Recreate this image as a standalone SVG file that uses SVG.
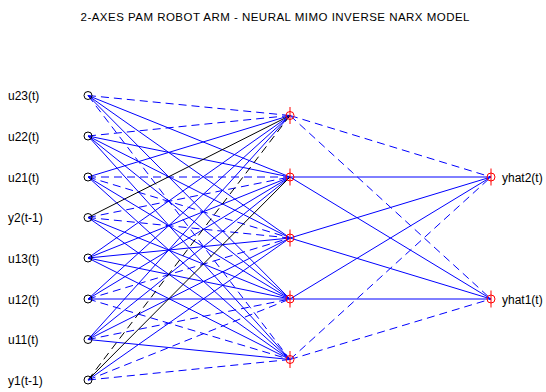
<svg xmlns="http://www.w3.org/2000/svg" width="546" height="392" viewBox="0 0 546 392">
<style>
text{font-family:"Liberation Sans",Arial,sans-serif;fill:#000}
.lbl{font-size:12px}
.ttl{font-size:11.5px}
line{stroke-width:1;fill:none}
.s{stroke:#0000ff}
.d{stroke:#0000ff;stroke-dasharray:8 5}
.k{stroke:#000}
.kd{stroke:#000;stroke-dasharray:8 5}
.in{fill:none;stroke:#000;stroke-width:1}
.rn{fill:none;stroke:#ff0000;stroke-width:1}
</style>
<rect width="546" height="392" fill="#fff"/>
<text class="ttl" x="80.5" y="20.5" textLength="389" lengthAdjust="spacing">2-AXES PAM ROBOT ARM - NEURAL MIMO INVERSE NARX MODEL</text>
<g id="connectors">
<!-- u23 -->
<line class="d" x1="88" y1="95.5" x2="290" y2="115.5"/>
<line class="s" x1="88" y1="95.5" x2="290" y2="177"/>
<line class="s" x1="88" y1="95.5" x2="290" y2="238"/>
<line class="s" x1="88" y1="95.5" x2="290" y2="299"/>
<line class="d" x1="88" y1="95.5" x2="290" y2="359.5"/>
<!-- u22 -->
<line class="d" x1="88" y1="136" x2="290" y2="115.5"/>
<line class="s" x1="88" y1="136" x2="290" y2="177"/>
<line class="s" x1="88" y1="136" x2="290" y2="238"/>
<line class="s" x1="88" y1="136" x2="290" y2="299"/>
<line class="s" x1="88" y1="136" x2="290" y2="359.5"/>
<!-- u21 -->
<line class="s" x1="88" y1="177" x2="290" y2="115.5"/>
<line class="d" x1="88" y1="177" x2="290" y2="177"/>
<line class="d" x1="88" y1="177" x2="290" y2="238"/>
<line class="s" x1="88" y1="177" x2="290" y2="299"/>
<line class="s" x1="88" y1="177" x2="290" y2="359.5"/>
<!-- y2 -->
<line class="k" x1="88" y1="217.5" x2="290" y2="115.5"/>
<line class="d" x1="88" y1="217.5" x2="290" y2="177"/>
<line class="d" x1="88" y1="217.5" x2="290" y2="238"/>
<line class="s" x1="88" y1="217.5" x2="290" y2="299"/>
<line class="s" x1="88" y1="217.5" x2="290" y2="359.5"/>
<!-- u13 -->
<line class="s" x1="88" y1="258" x2="290" y2="115.5"/>
<line class="s" x1="88" y1="258" x2="290" y2="177"/>
<line class="s" x1="88" y1="258" x2="290" y2="238"/>
<line class="s" x1="88" y1="258" x2="290" y2="299"/>
<line class="s" x1="88" y1="258" x2="290" y2="359.5"/>
<!-- u12 -->
<line class="s" x1="88" y1="299" x2="290" y2="115.5"/>
<line class="s" x1="88" y1="299" x2="290" y2="177"/>
<line class="d" x1="88" y1="299" x2="290" y2="238"/>
<line class="s" x1="88" y1="299" x2="290" y2="299"/>
<line class="d" x1="88" y1="299" x2="290" y2="359.5"/>
<!-- u11 -->
<line class="s" x1="88" y1="339.5" x2="290" y2="115.5"/>
<line class="s" x1="88" y1="339.5" x2="290" y2="177"/>
<line class="s" x1="88" y1="339.5" x2="290" y2="238"/>
<line class="d" x1="88" y1="339.5" x2="290" y2="299"/>
<line class="s" x1="88" y1="339.5" x2="290" y2="359.5"/>
<!-- y1 -->
<line class="kd" x1="88" y1="380" x2="290" y2="115.5"/>
<line class="k" x1="88" y1="380" x2="290" y2="177"/>
<line class="s" x1="88" y1="380" x2="290" y2="238"/>
<line class="d" x1="88" y1="380" x2="290" y2="299"/>
<line class="d" x1="88" y1="380" x2="290" y2="359.5"/>
<!-- hidden to output -->
<line class="d" x1="290" y1="115.5" x2="491" y2="177"/>
<line class="d" x1="290" y1="115.5" x2="491" y2="299"/>
<line class="s" x1="290" y1="177" x2="491" y2="177"/>
<line class="s" x1="290" y1="177" x2="491" y2="299"/>
<line class="s" x1="290" y1="238" x2="491" y2="177"/>
<line class="s" x1="290" y1="238" x2="491" y2="299"/>
<line class="s" x1="290" y1="299" x2="491" y2="177"/>
<line class="s" x1="290" y1="299" x2="491" y2="299"/>
<line class="d" x1="290" y1="359.5" x2="491" y2="177"/>
<line class="d" x1="290" y1="359.5" x2="491" y2="299"/>
</g>
<g id="in_u23"><circle class="in" cx="88" cy="95.5" r="4"/><text class="lbl" x="8" y="100">u23(t)</text></g>
<g id="in_u22"><circle class="in" cx="88" cy="136" r="4"/><text class="lbl" x="8" y="140.5">u22(t)</text></g>
<g id="in_u21"><circle class="in" cx="88" cy="177" r="4"/><text class="lbl" x="8" y="181.5">u21(t)</text></g>
<g id="in_y2"><circle class="in" cx="88" cy="217.5" r="4"/><text class="lbl" x="8" y="222">y2(t-1)</text></g>
<g id="in_u13"><circle class="in" cx="88" cy="258" r="4"/><text class="lbl" x="8" y="262.5">u13(t)</text></g>
<g id="in_u12"><circle class="in" cx="88" cy="299" r="4"/><text class="lbl" x="8" y="303.5">u12(t)</text></g>
<g id="in_u11"><circle class="in" cx="88" cy="339.5" r="4"/><text class="lbl" x="8" y="344">u11(t)</text></g>
<g id="in_y1"><circle class="in" cx="88" cy="380" r="4"/><text class="lbl" x="8" y="384.5">y1(t-1)</text></g>
<g id="h1"><circle class="rn" cx="290" cy="115.5" r="4"/><line class="rn" x1="290" y1="107" x2="290" y2="124"/></g>
<g id="h2"><circle class="rn" cx="290" cy="177" r="4"/><line class="rn" x1="290" y1="168.5" x2="290" y2="185.5"/></g>
<g id="h3"><circle class="rn" cx="290" cy="238" r="4"/><line class="rn" x1="290" y1="229.5" x2="290" y2="246.5"/></g>
<g id="h4"><circle class="rn" cx="290" cy="299" r="4"/><line class="rn" x1="290" y1="290.5" x2="290" y2="307.5"/></g>
<g id="h5"><circle class="rn" cx="290" cy="359.5" r="4"/><line class="rn" x1="290" y1="351" x2="290" y2="368"/></g>
<g id="out_yhat2"><circle class="rn" cx="491" cy="177" r="4"/><line class="rn" x1="491" y1="168.5" x2="491" y2="185.5"/><text class="lbl" x="502" y="181.5">yhat2(t)</text></g>
<g id="out_yhat1"><circle class="rn" cx="491" cy="299" r="4"/><line class="rn" x1="491" y1="290.5" x2="491" y2="307.5"/><text class="lbl" x="502" y="303.5">yhat1(t)</text></g>
</svg>
